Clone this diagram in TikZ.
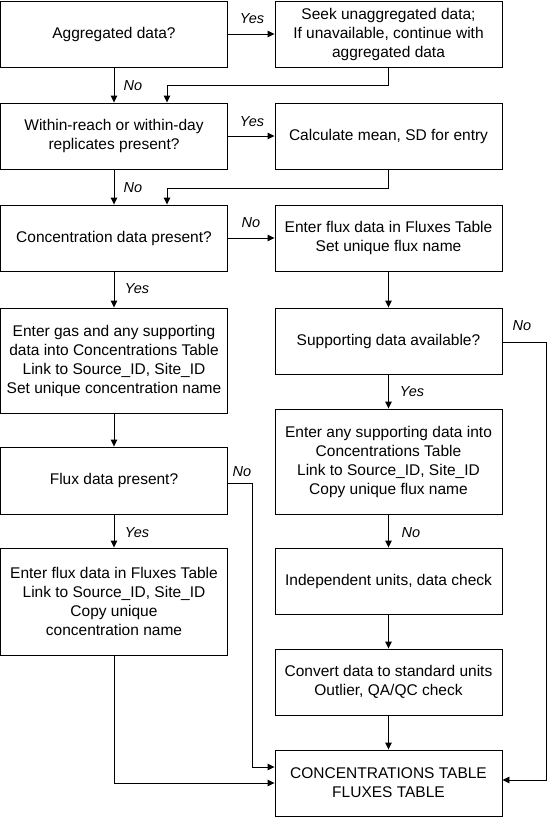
\documentclass[tikz,border=0pt]{standalone}
\usepackage{fontspec}
\setmainfont{Liberation Sans}
\usetikzlibrary{arrows.meta}
\begin{document}
\begin{tikzpicture}[x=1pt,y=-1pt,
  box/.style={draw,line width=0.9pt,minimum width=227pt,inner sep=0pt,align=center,
    font=\fontsize{15.5}{19}\selectfont},
  arr/.style={line width=0.9pt,-{Triangle[length=7pt,width=6.5pt]}},
  lbl/.style={font=\fontsize{14.5}{17}\selectfont\itshape,inner sep=0pt}]
\useasboundingbox (0,0) rectangle (548,817);
% left column
\node[box,minimum height=66pt] (b1) at (114,34) {Aggregated data?};
\node[box,minimum height=66pt] (b2) at (114,136) {Within-reach or within-day\\replicates present?};
\node[box,minimum height=66pt] (b3) at (114,238) {Concentration data present?};
\node[box,minimum height=105pt] (b4) at (114,360.5) {Enter gas and any supporting\\data into Concentrations Table\\Link to Source\_ID, Site\_ID\\Set unique concentration name};
\node[box,minimum height=67pt] (b5) at (114,480.5) {Flux data present?};
\node[box,minimum height=107pt] (b6) at (114,601.5) {Enter flux data in Fluxes Table\\Link to Source\_ID, Site\_ID\\Copy unique\\concentration name};
% right column
\node[box,minimum height=66pt] (r1) at (388.5,34) {Seek unaggregated data;\\If unavailable, continue with\\aggregated data};
\node[box,minimum height=66pt] (r2) at (388.5,136) {Calculate mean, SD for entry};
\node[box,minimum height=66pt] (r3) at (388.5,238) {Enter flux data in Fluxes Table\\Set unique flux name};
\node[box,minimum height=66pt] (r4) at (388.5,341) {Supporting data available?};
\node[box,minimum height=105pt] (r5) at (388.5,461.5) {Enter any supporting data into\\Concentrations Table\\Link to Source\_ID, Site\_ID\\Copy unique flux name};
\node[box,minimum height=66pt] (r6) at (388.5,581) {Independent units, data check};
\node[box,minimum height=66pt] (r7) at (388.5,682) {Convert data to standard units\\Outlier, QA/QC check};
\node[box,minimum height=66pt] (r8) at (388.5,783) {CONCENTRATIONS TABLE\\FLUXES TABLE};
% connectors
\draw[arr] (b1.east) -- (r1.west);
\node[lbl] (l1) at (252,19) {Yes};
\draw[arr] (b1.south) -- (b2.north);
\node[lbl] (l2) at (133,86) {No};
\coordinate (j1) at (167,85);
\draw[arr] (r1.south) |- (j1) -- (j1 |- b2.north);
\draw[arr] (b2.east) -- (r2.west);
\node[lbl] (l3) at (252,122) {Yes};
\draw[arr] (b2.south) -- (b3.north);
\node[lbl] (l4) at (133,188) {No};
\coordinate (j2) at (167,188);
\draw[arr] (r2.south) |- (j2) -- (j2 |- b3.north);
\draw[arr] (b3.east) -- (r3.west);
\node[lbl] (l5) at (251,223) {No};
\draw[arr] (b3.south) -- (b4.north);
\node[lbl] (l6) at (137,289) {Yes};
\draw[arr] (r3.south) -- (r4.north);
\coordinate (j3) at (546,342);
\coordinate (j3b) at (546,780);
\draw[arr] (r4.east |- j3) -- (j3) -- (j3b) -- (j3b -| r8.east);
\node[lbl] (l7) at (522,326) {No};
\draw[arr] (r4.south) -- (r5.north);
\node[lbl] (l8) at (412,392) {Yes};
\draw[arr] (b4.south) -- (b5.north);
\coordinate (j4) at (252,483);
\coordinate (j4b) at (252,767);
\draw[arr] (b5.east |- j4) -- (j4) -- (j4b) -- (j4b -| r8.west);
\node[lbl] (l9) at (242,472) {No};
\draw[arr] (b5.south) -- (b6.north);
\node[lbl] (l10) at (137,533) {Yes};
\coordinate (j5) at (114,783);
\draw[arr] (b6.south) -- (j5) -- (j5 -| r8.west);
\draw[arr] (r5.south) -- (r6.north);
\node[lbl] (l11) at (411,533) {No};
\draw[arr] (r6.south) -- (r7.north);
\draw[arr] (r7.south) -- (r8.north);
\end{tikzpicture}
\end{document}
